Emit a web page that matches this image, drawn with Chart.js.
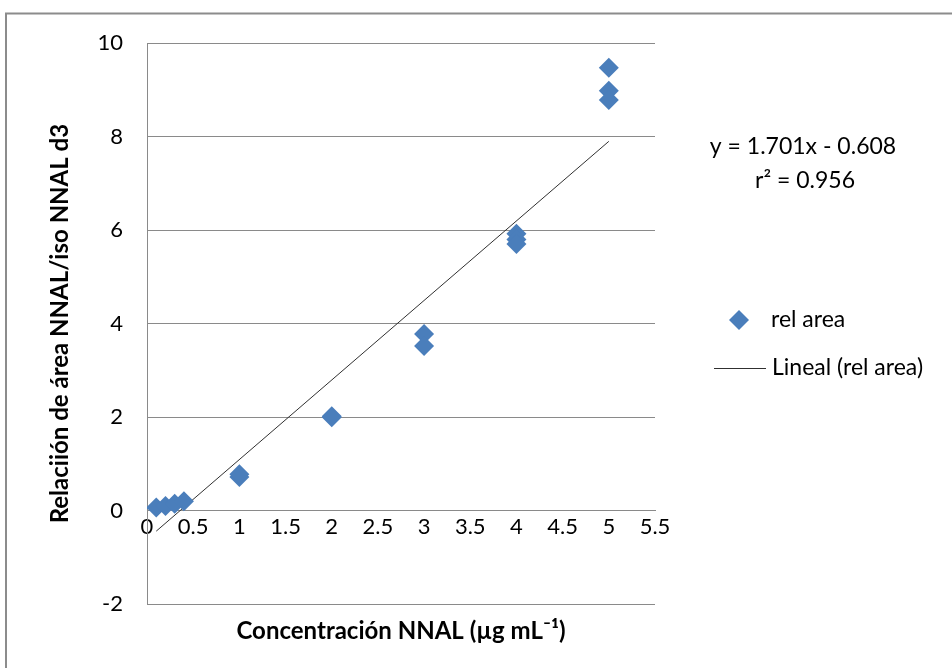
<!DOCTYPE html>
<html>
<head>
<meta charset="utf-8">
<script src="https://cdn.jsdelivr.net/npm/chart.js@4/dist/chart.umd.min.js"></script>
<style>
  html, body { margin: 0; padding: 0; background: #fff; }
  #wrap { position: relative; width: 952px; height: 668px; }
</style>
</head>
<body>
<div id="wrap"><canvas id="c" width="952" height="668"></canvas></div>
<script>
// ---- data ----
const concentration = [0.1, 0.2, 0.3, 0.4, 1, 1, 2, 2, 3, 3, 4, 4, 4, 5, 5, 5];
const relArea       = [0.07, 0.1, 0.15, 0.2, 0.72, 0.78, 2.02, 2.0, 3.78, 3.52, 5.92, 5.8, 5.7, 9.47, 8.98, 8.78];
const trendX = [0.1, 5];
const trendY = [-0.438, 7.897];
const xTicks = [0, 0.5, 1, 1.5, 2, 2.5, 3, 3.5, 4, 4.5, 5, 5.5];
const yTicks = [-2, 0, 2, 4, 6, 8, 10];
const seriesName = 'rel area';
const trendName = 'Lineal (rel area)';
const equationLines = ['y = 1.701x - 0.608', 'r\u00B2 = 0.956'];
const xTitle = 'Concentración NNAL (µg mL\u207B\u00B9)';
const yTitle = 'Relaciión de área NNAL/iso NNAL d3';

const BLUE = '#4a7ebb';
const GRID = '#8a8a8a';
const FONT = 'Lato, "Liberation Sans", sans-serif';

const pointData = concentration.map((x, i) => ({ x: x, y: relArea[i] }));
const trendData = trendX.map((x, i) => ({ x: x, y: trendY[i] }));

const decorPlugin = {
  id: 'decor',
  beforeDraw(chart) {
    const ctx = chart.ctx;
    ctx.save();
    ctx.strokeStyle = '#8c8c8c';
    ctx.lineWidth = 2;
    ctx.strokeRect(6, 13.5, 2000, 2000);
    ctx.restore();
  },
  afterDraw(chart) {
    const ctx = chart.ctx;
    ctx.save();
    ctx.fillStyle = '#000';
    ctx.font = '23px ' + FONT;
    ctx.textAlign = 'center';
    ctx.textBaseline = 'middle';
    ctx.fillText(equationLines[0], 803, 147);
    ctx.fillText(equationLines[1], 805, 181);
    // legend: marker
    const r = 10;
    ctx.fillStyle = BLUE;
    ctx.beginPath();
    ctx.moveTo(739 - r, 320);
    ctx.lineTo(739, 320 - r);
    ctx.lineTo(739 + r, 320);
    ctx.lineTo(739, 320 + r);
    ctx.closePath();
    ctx.fill();
    ctx.strokeStyle = '#303030';
    ctx.lineWidth = 1;
    ctx.beginPath();
    ctx.moveTo(714, 368.5);
    ctx.lineTo(766, 368.5);
    ctx.stroke();
    ctx.fillStyle = '#000';
    ctx.textAlign = 'left';
    ctx.fillText(seriesName, 771, 320);
    ctx.fillText(trendName, 772, 368);
    ctx.restore();
  }
};

new Chart(document.getElementById('c'), {
  type: 'scatter',
  data: {
    datasets: [
      {
        label: seriesName,
        data: pointData,
        pointStyle: 'rectRot',
        pointRadius: 10,
        pointHoverRadius: 10,
        backgroundColor: BLUE,
        borderColor: BLUE,
        borderWidth: 0,
        showLine: false
      },
      {
        label: trendName,
        data: trendData,
        showLine: true,
        pointRadius: 0,
        borderColor: '#303030',
        borderWidth: 1,
        fill: false
      }
    ]
  },
  plugins: [decorPlugin],
  options: {
    responsive: false,
    animation: false,
    layout: { padding: { left: 46, top: 43, right: 297, bottom: 15 } },
    plugins: {
      legend: { display: false },
      tooltip: { enabled: false },
      title: {
        display: true,
        text: xTitle,
        position: 'bottom',
        fullSize: false,
        color: '#000',
        font: { family: FONT, size: 24, weight: 'bold' },
        padding: { top: 13, bottom: 7 }
      }
    },
    scales: {
      x: {
        type: 'linear',
        position: { y: 0 },
        min: 0,
        max: 5.5,
        afterBuildTicks(scale) { scale.ticks = xTicks.map(v => ({ value: v })); },
        afterFit(scale) { scale.height = 0; },
        ticks: {
          color: '#000',
          font: { family: FONT, size: 22 },
          padding: 3,
          maxRotation: 0,
          autoSkip: false,
          callback: (v) => String(v)
        },
        grid: { color: 'rgba(0,0,0,0)', drawTicks: false },
        border: { display: true, color: GRID, width: 1 }
      },
      y: {
        type: 'linear',
        position: 'left',
        min: -2,
        max: 10,
        afterBuildTicks(scale) { scale.ticks = yTicks.map(v => ({ value: v })); },
        afterFit(scale) { scale.width = 101; },
        ticks: {
          color: '#000',
          font: { family: FONT, size: 22 },
          padding: 24,
          callback: (v) => String(v)
        },
        grid: { color: GRID, lineWidth: 1, drawTicks: false },
        border: { display: true, color: GRID, width: 1 },
        title: {
          display: true,
          text: yTitle,
          color: '#000',
          font: { family: FONT, size: 24, weight: 'bold' },
          padding: 0
        }
      }
    }
  }
});
</script>
</body>
</html>
